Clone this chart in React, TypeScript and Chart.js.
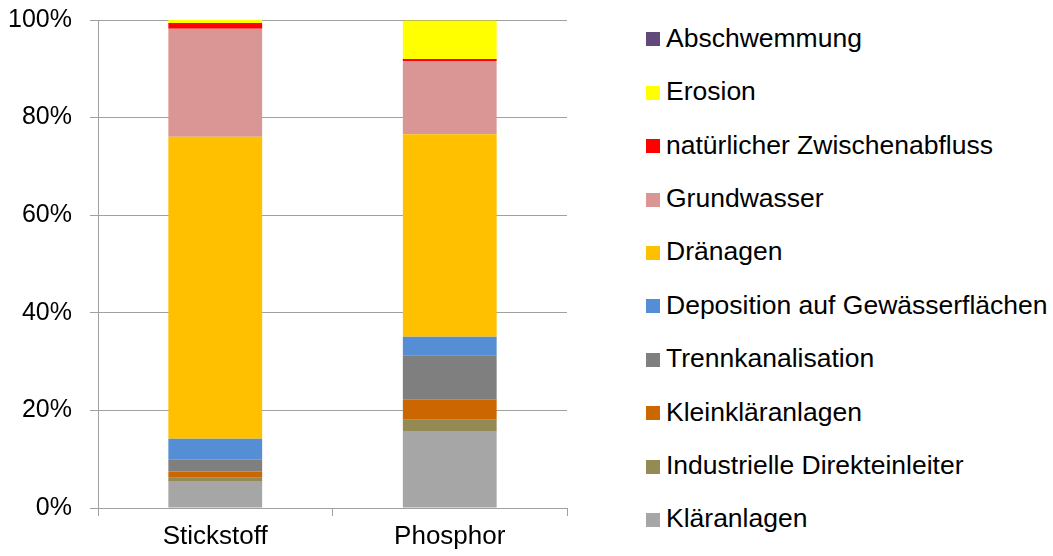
import React, { useEffect, useRef } from "react";
import { Chart, registerables } from "chart.js";

Chart.register(...registerables);

const categories = ["Stickstoff", "Phosphor"];

// bottom-to-top stacking order
const seriesNames = [
  "Kläranlagen",
  "Industrielle Direkteinleiter",
  "Kleinkläranlagen",
  "Trennkanalisation",
  "Deposition auf Gewässerflächen",
  "Dränagen",
  "Grundwasser",
  "natürlicher Zwischenabfluss",
  "Erosion",
  "Abschwemmung",
];

const seriesColors = [
  "#A6A6A6",
  "#948A54",
  "#CC6600",
  "#7F7F7F",
  "#558ED5",
  "#FFC000",
  "#D99694",
  "#FF0000",
  "#FFFF00",
  "#604A7B",
];

const klaeranlagen = [5.4, 15.8];
const industrielle = [0.8, 2.3];
const kleinklaeranlagen = [1.3, 4.1];
const trennkanalisation = [2.4, 9.1];
const deposition = [4.3, 3.8];
const draenagen = [61.9, 41.5];
const grundwasser = [22.1, 15.0];
const zwischenabfluss = [1.2, 0.4];
const erosion = [0.6, 7.9];
const abschwemmung = [0.0, 0.1];

const seriesValues = [
  klaeranlagen,
  industrielle,
  kleinklaeranlagen,
  trennkanalisation,
  deposition,
  draenagen,
  grundwasser,
  zwischenabfluss,
  erosion,
  abschwemmung,
];

const yTicks = [0, 20, 40, 60, 80, 100];

const FONT = "'Liberation Sans', Arial, sans-serif";
const GRID = "#A0A0A0";

export default function App() {
  const ref = useRef<HTMLCanvasElement | null>(null);

  useEffect(() => {
    if (!ref.current) return;
    const chart = new Chart(ref.current, {
      type: "bar",
      data: {
        labels: categories,
        datasets: seriesNames.map((name, i) => ({
          label: name,
          data: seriesValues[i],
          backgroundColor: seriesColors[i],
          borderWidth: 0,
          categoryPercentage: 1,
          barPercentage: 0.4,
        })),
      },
      options: {
        animation: false,
        responsive: false,
        maintainAspectRatio: false,
        layout: { padding: { left: 0, top: 20, right: 33, bottom: 7 } },
        plugins: {
          legend: { display: false },
          tooltip: { enabled: false },
        },
        scales: {
          x: {
            stacked: true,
            grid: {
              display: true,
              drawOnChartArea: false,
              drawTicks: true,
              tickLength: 8,
              offset: true,
              color: GRID,
            },
            border: { display: true, color: GRID },
            ticks: {
              color: "#000",
              padding: 5,
              font: { family: FONT, size: 26 },
            },
            afterFit: (s: any) => {
              s.height = 41;
              s.paddingLeft = 0;
              s.paddingRight = 0;
            },
          },
          y: {
            stacked: true,
            min: 0,
            max: 100,
            afterBuildTicks: (s: any) => {
              s.ticks = yTicks.map((v) => ({ value: v }));
            },
            grid: {
              color: GRID,
              drawTicks: true,
              tickLength: 8,
            },
            border: { display: true, color: GRID },
            ticks: {
              color: "#000",
              padding: 18,
              font: { family: FONT, size: 25 },
              callback: (v: any) => v + "%",
            },
            afterFit: (s: any) => {
              s.width = 98;
              s.paddingTop = 0;
              s.paddingBottom = 0;
            },
          },
        },
      },
    });
    return () => chart.destroy();
  }, []);

  const legendOrder = seriesNames.map((_, i) => seriesNames.length - 1 - i);

  return (
    <div
      style={{
        position: "fixed",
        left: 0,
        top: 0,
        width: 1053,
        height: 556,
        background: "#fff",
        overflow: "hidden",
      }}
    >
      <canvas
        ref={ref}
        width={600}
        height={556}
        style={{ position: "absolute", left: 0, top: 0, width: 600, height: 556 }}
      />
      {legendOrder.map((idx, row) => {
        const cy = 39.3 + 53.4 * row;
        return (
          <div
            key={seriesNames[idx]}
            style={{
              position: "absolute",
              left: 646,
              top: cy - 20,
              height: 40,
              display: "flex",
              alignItems: "center",
              whiteSpace: "nowrap",
              fontFamily: FONT,
              fontSize: 26.5,
              color: "#000",
            }}
          >
            <span
              style={{
                display: "inline-block",
                width: 14,
                height: 14,
                background: seriesColors[idx],
                marginRight: 6,
              }}
            />
            <span style={{ position: "relative", top: -1 }}>{seriesNames[idx]}</span>
          </div>
        );
      })}
    </div>
  );
}
